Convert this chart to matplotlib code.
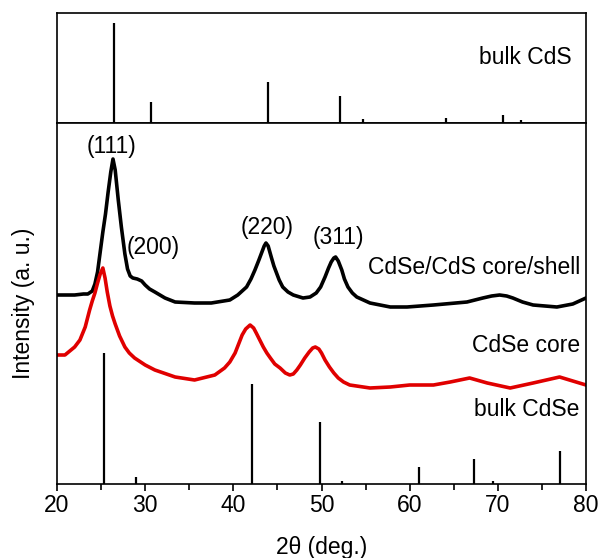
import numpy as np
import matplotlib.pyplot as plt

plt.rcParams['font.family'] = ['Liberation Sans', 'DejaVu Sans']

# reference sticks (2theta, relative intensity)
cds_pos = [26.5, 30.7, 43.9, 52.1, 54.7, 64.1, 70.6, 72.6]
cds_int = [100, 21, 41, 27, 4, 5, 8, 3]
cdse_pos = [25.35, 29.0, 42.1, 49.8, 52.3, 61.1, 67.3, 69.4, 77.0]
cdse_int = [100, 5, 76, 47, 2, 13, 19, 2, 25]

# CdSe/CdS core/shell pattern
shell_x = [20, 21, 22, 23, 23.5, 24.0, 24.3, 24.6, 24.9, 25.2, 25.5, 25.8, 26.1,
           26.35, 26.6, 26.95, 27.3, 27.7, 28.0, 28.3, 28.6, 29.1, 29.6, 30.0,
           30.5, 31.1, 32.25, 33.4, 35.6, 37.5, 39.6, 40.5, 41.5, 42.0, 42.45,
           42.9, 43.2, 43.5, 43.7, 43.95, 44.3, 44.6, 44.9, 45.2, 45.6, 46.2,
           46.8, 47.9, 48.7, 49.4, 49.9, 50.4, 50.8, 51.1, 51.4, 51.6, 51.9,
           52.3, 52.6, 53.0, 53.5, 54.0, 55.5, 57.8, 59.7, 62.7, 66.5, 68.3,
           69.3, 70.2, 71.0, 71.7, 72.8, 74.0, 76.7, 78.5, 80]
shell_y = [189, 189, 189, 190, 190, 193, 200, 212, 232, 252, 270, 292, 312,
           325, 314, 284, 257, 230, 215, 208, 206, 205, 203, 199,
           195, 192, 186, 182, 181, 181, 184, 189, 197, 205, 214,
           224, 231, 238, 241, 238, 227, 218, 211, 204, 197, 192,
           189, 186, 187, 191, 197, 207, 216, 222, 226, 227, 223,
           214, 205, 197, 191, 187, 181, 177, 177, 179, 182, 186,
           188, 189, 188, 186, 182, 179, 177, 180, 186]

# CdSe core pattern
core_x = [20, 20.9, 22.0, 22.6, 23.2, 23.7, 24.0, 24.3, 24.6, 24.9, 25.2, 25.45,
          25.7, 26.0, 26.3, 26.6, 27.1, 27.7, 28.2, 28.8, 30.0, 31.1, 33.4,
          35.6, 37.9, 39.0, 39.6, 40.2, 40.6, 41.0, 41.4, 41.9, 42.3, 42.6,
          43.0, 43.4, 43.8, 44.2, 44.7, 45.3, 45.9, 46.4, 46.8, 47.2, 47.6,
          48.1, 48.6, 49.0, 49.3, 49.7, 50.0, 50.4, 50.9, 51.4, 51.9, 52.5,
          53.2, 55.5, 57.8, 60.0, 62.7, 64.6, 66.8, 68.8, 71.4, 74.0, 77.0,
          80.0]
core_y = [129, 129, 137, 144, 157, 174, 183, 191, 201, 210, 216, 206,
          192, 178, 168, 160, 148, 137, 131, 126, 119, 114, 107,
          104, 109, 116, 122, 131, 140, 149, 155, 159, 156, 151,
          144, 137, 131, 126, 120, 116, 111, 109, 110, 114, 119,
          126, 132, 136, 137, 135, 131, 124, 117, 111, 106, 102,
          99, 96, 97, 99, 99, 102, 106, 101, 96, 101, 107,
          99]

fs = 16.5
fig = plt.figure(figsize=(6, 5.58), dpi=100)
ax1 = fig.add_axes([57/600, 1-123/558, 529/600, 110/558])
ax2 = fig.add_axes([57/600, 1-484/558, 529/600, 361/558])

# top panel: bulk CdS
ax1.vlines(cds_pos, 0, cds_int, color='black', lw=1.6)
ax1.set_xlim(20, 80)
ax1.set_ylim(0, 110)
ax1.set_xticks([])
ax1.set_yticks([])
ax1.text(78.4, 66, 'bulk CdS', ha='right', va='center', fontsize=fs)

# bottom panel
ax2.plot(shell_x, shell_y, color='black', lw=2.6)
ax2.plot(core_x, core_y, color='#e00000', lw=2.6)
ax2.vlines(cdse_pos, 0, np.array(cdse_int)*1.31, color='black', lw=1.6)
ax2.set_xlim(20, 80)
ax2.set_ylim(0, 361)
ax2.set_yticks([])
ax2.set_xticks(range(20, 81, 10))
ax2.set_xticks(range(25, 80, 10), minor=True)
ax2.tick_params(axis='x', which='major', direction='out', length=5, width=1.2,
                labelsize=fs, pad=2)
ax2.tick_params(axis='x', which='minor', direction='out', length=4, width=1.2)

for a in (ax1, ax2):
    for s in a.spines.values():
        s.set_linewidth(1.2)

ax2.text(26.2, 337, '(111)', ha='center', va='center', fontsize=fs)
ax2.text(30.9, 236, '(200)', ha='center', va='center', fontsize=fs)
ax2.text(43.8, 256, '(220)', ha='center', va='center', fontsize=fs)
ax2.text(51.9, 246, '(311)', ha='center', va='center', fontsize=fs)
ax2.text(79.3, 216, 'CdSe/CdS core/shell', ha='right', va='center', fontsize=fs)
ax2.text(79.3, 138, 'CdSe core', ha='right', va='center', fontsize=fs)
ax2.text(79.3, 75, 'bulk CdSe', ha='right', va='center', fontsize=fs)

ax2.set_xlabel('2\u03b8 (deg.)', fontsize=fs, labelpad=14)
ax2.set_ylabel('Intensity (a. u.)', fontsize=fs, labelpad=16)

fig.savefig('out.png', dpi=100)
